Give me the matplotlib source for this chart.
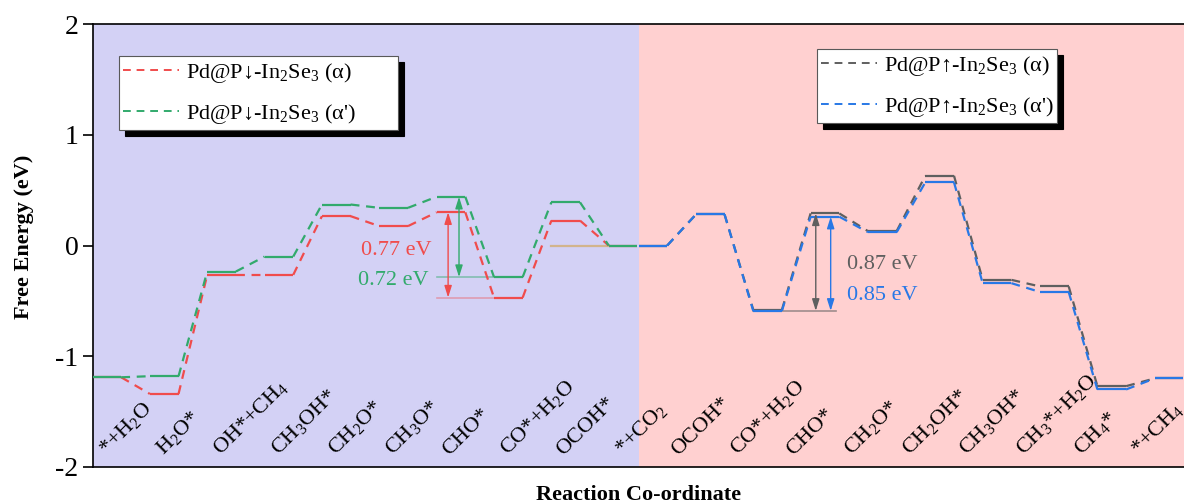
import numpy as np
import matplotlib.pyplot as plt
from matplotlib.lines import Line2D

plt.rcParams['font.family'] = ['Liberation Serif', 'DejaVu Serif']
plt.rcParams['mathtext.fontset'] = 'custom'
plt.rcParams['mathtext.rm'] = 'Liberation Serif'
plt.rcParams['mathtext.it'] = 'Liberation Serif:italic'
plt.rcParams['mathtext.bf'] = 'Liberation Serif:bold'
plt.rcParams['axes.unicode_minus'] = False

# reaction steps
left_labels = ['*+H$_2$O', 'H$_2$O*', 'OH*+CH$_4$', 'CH$_3$OH*', 'CH$_2$O*',
               'CH$_3$O*', 'CHO*', 'CO*+H$_2$O', 'OCOH*', '*+CO$_2$']
right_labels = ['OCOH*', 'CO*+H$_2$O', 'CHO*', 'CH$_2$O*', 'CH$_2$OH*',
                'CH$_3$OH*', 'CH$_3$*+H$_2$O', 'CH$_4$*', '*+CH$_4$']

# free energies (eV)
down_a = [-1.19, -1.34, -0.265, -0.265, 0.265, 0.175, 0.30, -0.47, 0.225, 0.0]
down_b = [-1.19, -1.18, -0.235, -0.10, 0.37, 0.34, 0.44, -0.285, 0.39, 0.0]
up_a = [0.0, 0.28, -0.58, 0.29, 0.13, 0.63, -0.31, -0.37, -1.27, -1.20]
up_b = [0.0, 0.28, -0.59, 0.26, 0.12, 0.57, -0.34, -0.42, -1.30, -1.20]

names = ['Pd@P\u2193-In$_2$Se$_3$ (\u03b1)', "Pd@P\u2193-In$_2$Se$_3$ (\u03b1')",
         'Pd@P\u2191-In$_2$Se$_3$ (\u03b1)', "Pd@P\u2191-In$_2$Se$_3$ (\u03b1')"]
colors = ['#f04c4c', '#32aa6c', '#5f5f5f', '#2878e6']

W = 0.5
SPLIT = 9.52
XMAX = 19.03


def draw_path(ax, x0, ys, color):
    xs = x0 + np.arange(len(ys))
    for i, y in enumerate(ys):
        ax.plot([xs[i], xs[i] + W], [y, y], color=color, lw=1.6,
                solid_capstyle='butt', zorder=3)
        if i + 1 < len(ys):
            ax.plot([xs[i] + W, xs[i + 1]], [y, ys[i + 1]], color=color, lw=1.6,
                    dashes=(4, 3), zorder=3)


fig = plt.figure(figsize=(11.84, 5.04), dpi=100)
ax = fig.add_axes([92.5 / 1184, 37 / 504, 1 - 92.5 / 1184, 443 / 504])
ax.set_xlim(0, XMAX)
ax.set_ylim(-2, 2)

ax.axvspan(0, SPLIT, color='#d3d1f5', zorder=0, lw=0)
ax.axvspan(SPLIT, XMAX, color='#ffd0d0', zorder=0, lw=0)

ax.plot([8, 9], [0, 0], color='#d2b48c', lw=1.6, zorder=2)

draw_path(ax, 0, down_a, colors[0])
draw_path(ax, 0, down_b, colors[1])
draw_path(ax, SPLIT, up_a, colors[2])
draw_path(ax, SPLIT, up_b, colors[3])

# barrier annotations
ax.plot([6.0, 7.0], [down_a[7], down_a[7]], color=colors[0], lw=1.2, alpha=0.4, zorder=2)
ax.plot([6.0, 7.0], [down_b[7], down_b[7]], color=colors[1], lw=1.2, alpha=0.5, zorder=2)
ax.plot([SPLIT + 2.0, SPLIT + 3.45], [up_b[2], up_b[2]], color=colors[2], lw=1.2, alpha=0.6, zorder=2)

arrow = '<|-|>,head_length=0.7,head_width=0.22'
ax.annotate('', xy=(6.2, down_a[6]), xytext=(6.2, down_a[7]),
            arrowprops=dict(arrowstyle=arrow, color=colors[0], lw=1, shrinkA=0, shrinkB=0))
ax.annotate('', xy=(6.39, down_b[6]), xytext=(6.39, down_b[7]),
            arrowprops=dict(arrowstyle=arrow, color=colors[1], lw=1, shrinkA=0, shrinkB=0))
ax.annotate('', xy=(SPLIT + 3.09, up_a[3]), xytext=(SPLIT + 3.09, up_b[2]),
            arrowprops=dict(arrowstyle=arrow, color=colors[2], lw=1, shrinkA=0, shrinkB=0))
ax.annotate('', xy=(SPLIT + 3.35, up_b[3]), xytext=(SPLIT + 3.35, up_b[2]),
            arrowprops=dict(arrowstyle=arrow, color=colors[3], lw=1, shrinkA=0, shrinkB=0))

ax.text(5.92, -0.045, '0.77 eV', color=colors[0], fontsize=16, ha='right', va='center')
ax.text(5.86, -0.32, '0.72 eV', color=colors[1], fontsize=16, ha='right', va='center')
ax.text(13.15, -0.17, '0.87 eV', color=colors[2], fontsize=16, ha='left', va='center')
ax.text(13.15, -0.45, '0.85 eV', color=colors[3], fontsize=16, ha='left', va='center')

# step labels
labels = left_labels + right_labels
for k, lab in enumerate(labels):
    ax.text(k + 0.04, -1.93, lab, rotation=45, ha='left', va='bottom',
            fontsize=16, zorder=4)

ax.set_xticks([])
ax.set_yticks([-2, -1, 0, 1, 2])
ax.tick_params(axis='y', direction='out', length=7, width=1.2, labelsize=20, pad=3)
for s in ['left', 'bottom', 'top']:
    ax.spines[s].set_linewidth(1.2)
ax.spines['right'].set_visible(False)

ax.set_ylabel('Free Energy (eV)', fontsize=16, fontweight='bold')
ax.yaxis.set_label_coords(-0.054, 0.52)
ax.set_xlabel('Reaction Co-ordinate', fontsize=16, fontweight='bold')
ax.xaxis.set_label_coords(0.5, -0.04)

shadow = {'ox': 4.3, 'oy': -4.3, 'color': 'black', 'alpha': 1}
h_left = [Line2D([], [], color=c, lw=1.4, dashes=(4, 3)) for c in colors[:2]]
h_right = [Line2D([], [], color=c, lw=1.4, dashes=(4, 3)) for c in colors[2:]]
leg_kw = dict(loc='lower left', bbox_transform=fig.transFigure, fontsize=16, mode='expand',
              frameon=True, fancybox=False, framealpha=1, edgecolor='0.35', shadow=shadow,
              borderpad=0.2, borderaxespad=0, handlelength=2.5, handletextpad=0.3,
              labelspacing=0.75)
leg1 = ax.legend(h_left, names[:2],
                 bbox_to_anchor=(119 / 1184, 1 - 130 / 504, 279 / 1184, 77 / 504), **leg_kw)
leg1.get_frame().set_linewidth(0.8)
ax.add_artist(leg1)
leg2 = ax.legend(h_right, names[2:],
                 bbox_to_anchor=(817 / 1184, 1 - 123 / 504, 240 / 1184, 76 / 504), **leg_kw)
leg2.get_frame().set_linewidth(0.8)

fig.savefig('out.png', dpi=100)
